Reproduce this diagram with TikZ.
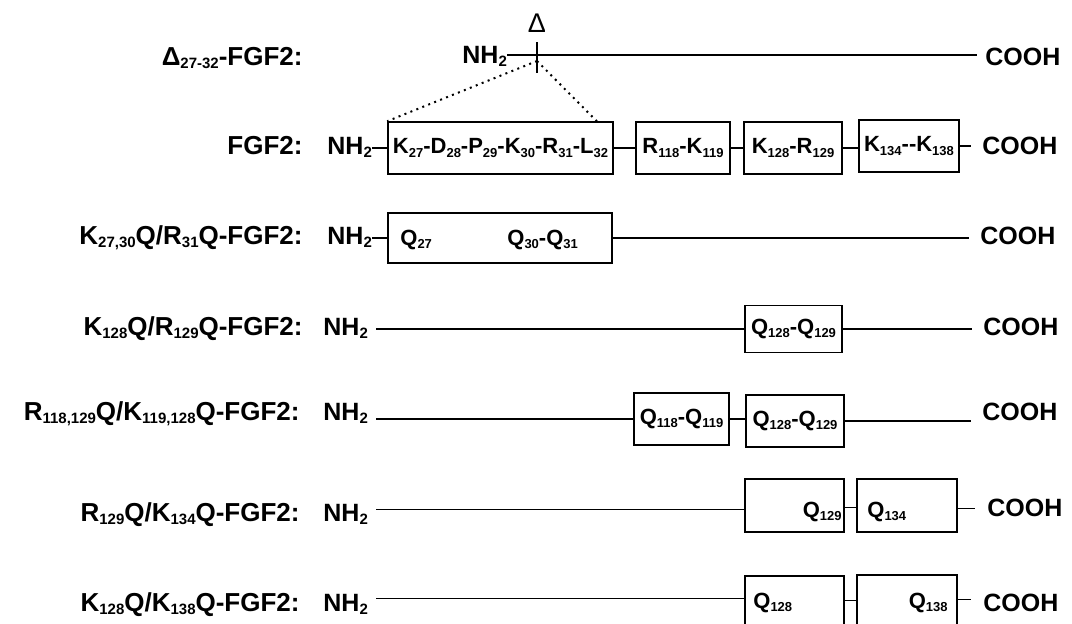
\documentclass[tikz,border=0pt]{standalone}
\usepackage{fontspec}
\setmainfont{Liberation Sans}
\usetikzlibrary{positioning}
\newcommand{\sbsize}{7.5}
\newcommand{\sbt}[1]{\raisebox{-0.14em}{\fontsize{\sbsize}{\sbsize}\selectfont #1}}

\begin{document}
\begin{tikzpicture}[
			x=0.5pt, y=-0.5pt,
			lbl/.style={anchor=base east, inner sep=0pt,
				font=\fontsize{13}{15}\selectfont\bfseries\renewcommand{\sbsize}{7.5}},
			term/.style={anchor=base west, inner sep=0pt,
				font=\fontsize{12.5}{15}\selectfont\bfseries\renewcommand{\sbsize}{7.5}},
			dom/.style={draw, line width=0.8pt, inner sep=0pt,
				font=\fontsize{11}{13}\selectfont\bfseries\renewcommand{\sbsize}{6.5}},
			dtxt/.style={inner sep=0pt,
				font=\fontsize{11}{13}\selectfont\bfseries\renewcommand{\sbsize}{6.5}},
			chain/.style={line width=0.8pt}
			]
			\useasboundingbox (0,0) rectangle (1072,623);
			\clip (0,0) rectangle (1072,623);

			% deletion mutant
			\node[lbl] (l1) at (303,65) {Δ\sbt{27-32}-FGF2:};
			\node[term] (nh1) at (462,63) {NH\sbt{2}};
			\node[term] (c1) at (985,65) {COOH};
			\coordinate (cut) at (537,55);
			\node[inner sep=0pt, anchor=south, font=\fontsize{13.5}{15}\selectfont] (dsym) at (537,33) {Δ};

			% wild type
			\node[lbl] (l2) at (303,154) {FGF2:};
			\node[term] (nh2) at (327,154) {NH\sbt{2}};
			\node[dom, minimum width=112.5pt, minimum height=26pt] (f1) at (500.5,148)
			{K\sbt{27}-D\sbt{28}-P\sbt{29}-K\sbt{30}-R\sbt{31}-L\sbt{32}};
			\node[dom, minimum width=47pt, minimum height=26pt] (f2) at (683,148) {R\sbt{118}-K\sbt{119}};
			\node[dom, minimum width=49pt, minimum height=26pt] (f3) at (793,148) {K\sbt{128}-R\sbt{129}};
			\node[dom, minimum width=50pt, minimum height=26pt] (f4) at (909,146) {K\sbt{134}-{}-K\sbt{138}};
			\node[term] (c2) at (982,154) {COOH};

			% K27,30Q/R31Q
			\node[lbl] (l3) at (303,244) {K\sbt{27,30}Q/R\sbt{31}Q-FGF2:};
			\node[term] (nh3) at (327,244) {NH\sbt{2}};
			\node[dom, minimum width=112pt, minimum height=25pt] (m1) at (500,238) {};
			\node[dtxt, anchor=base west] (q27) at (400,245) {Q\sbt{27}};
			\node[dtxt, anchor=base west] (q3031) at (507,245) {Q\sbt{30}-Q\sbt{31}};
			\node[term] (c3) at (980,244) {COOH};

			% K128Q/R129Q
			\node[lbl] (l4) at (303,335) {K\sbt{128}Q/R\sbt{129}Q-FGF2:};
			\node[term] (nh4) at (323,335) {NH\sbt{2}};
			\node[dom, minimum width=48.5pt, minimum height=23.5pt] (m4) at (793.5,329) {Q\sbt{128}-Q\sbt{129}};
			\node[term] (c4) at (983,335) {COOH};

			% R118,129Q/K119,128Q
			\node[lbl] (l5) at (300,420) {R\sbt{118,129}Q/K\sbt{119,128}Q-FGF2:};
			\node[term] (nh5) at (323,420) {NH\sbt{2}};
			\node[dom, minimum width=47.5pt, minimum height=26pt] (m5a) at (681.5,419) {Q\sbt{118}-Q\sbt{119}};
			\node[dom, minimum width=49pt, minimum height=26pt] (m5b) at (795,421) {Q\sbt{128}-Q\sbt{129}};
			\node[term] (c5) at (982,420) {COOH};

			% R129Q/K134Q
			\node[lbl] (l6) at (300,521) {R\sbt{129}Q/K\sbt{134}Q-FGF2:};
			\node[term] (nh6) at (323,521) {NH\sbt{2}};
			\node[dom, minimum width=49.5pt, minimum height=26.5pt] (m6a) at (794.5,505.5) {};
			\node[dom, minimum width=50pt, minimum height=26.5pt] (m6b) at (907,505.5) {};
			\node[dtxt, anchor=base east] (q129) at (842,517) {Q\sbt{129}};
			\node[dtxt, anchor=base west] (q134) at (867,517) {Q\sbt{134}};
			\node[term] (c6) at (987,516) {COOH};

			% K128Q/K138Q
			\node[lbl] (l7) at (300,611) {K\sbt{128}Q/K\sbt{138}Q-FGF2:};
			\node[term] (nh7) at (323,611) {NH\sbt{2}};
			\node[dom, minimum width=49.5pt, minimum height=26.5pt] (m7a) at (794.5,602.5) {};
			\node[dom, minimum width=50pt, minimum height=26.5pt] (m7b) at (907,601.5) {};
			\node[dtxt, anchor=base west] (q128) at (753,608) {Q\sbt{128}};
			\node[dtxt, anchor=base east] (q138) at (948,608) {Q\sbt{138}};
			\node[term] (c7) at (983,611) {COOH};

			% chains
			\draw[chain, shorten >=4pt] (nh1.east |- cut) -- (c1.west |- cut);
			\draw[chain] ([yshift=6.5pt]cut) -- ([yshift=-9pt]cut);
			\draw[line width=1pt, dash pattern=on 1pt off 2.2pt] ([yshift=-3pt]cut) -- (f1.north west);
			\draw[line width=1pt, dash pattern=on 1pt off 2.2pt] ([yshift=-3pt]cut) -- ([xshift=-8.5pt]f1.north east);

			\foreach \a/\b in {nh2/f1, nh3/m1} {
				\draw[chain] (\a.east |- \b.west) -- (\b.west);
			}
			\foreach \a/\b in {nh4/m4, nh5/m5a} {
				\draw[chain, shorten <=4pt] (\a.east |- \b.west) -- (\b.west);
			}
			\draw[chain, shorten <=4pt] ([yshift=-2pt]nh6.east |- m6a.west) -- ([yshift=-2pt]m6a.west);
			\draw[chain, shorten <=4pt] ([yshift=2pt]nh7.east |- m7a.west) -- ([yshift=2pt]m7a.west);
			\foreach \a/\b in {f1/f2, f2/f3, f3/f4, m5a/m5b} {
				\draw[chain] (\a.east) -- (\b.west |- \a.east);
			}
			\draw[chain] ([yshift=-1pt]m6a.east) -- ([yshift=-1pt]m6a.east -| m6b.west);
			\draw[chain] ([yshift=1pt]m7a.east) -- ([yshift=1pt]m7a.east -| m7b.west);
			\foreach \a/\b in {f4/c2, m1/c3, m4/c4, m5b/c5} {
				\draw[chain, shorten >=5.5pt] (\a.east) -- (\b.west |- \a.east);
			}
			\draw[chain, shorten >=6pt] ([yshift=-1.5pt]m6b.east) -- ([yshift=-1.5pt]m6b.east -| c6.west);
			\draw[chain, shorten >=6pt] ([yshift=1pt]m7b.east) -- ([yshift=1pt]m7b.east -| c7.west);

		\end{tikzpicture}
\end{document}
